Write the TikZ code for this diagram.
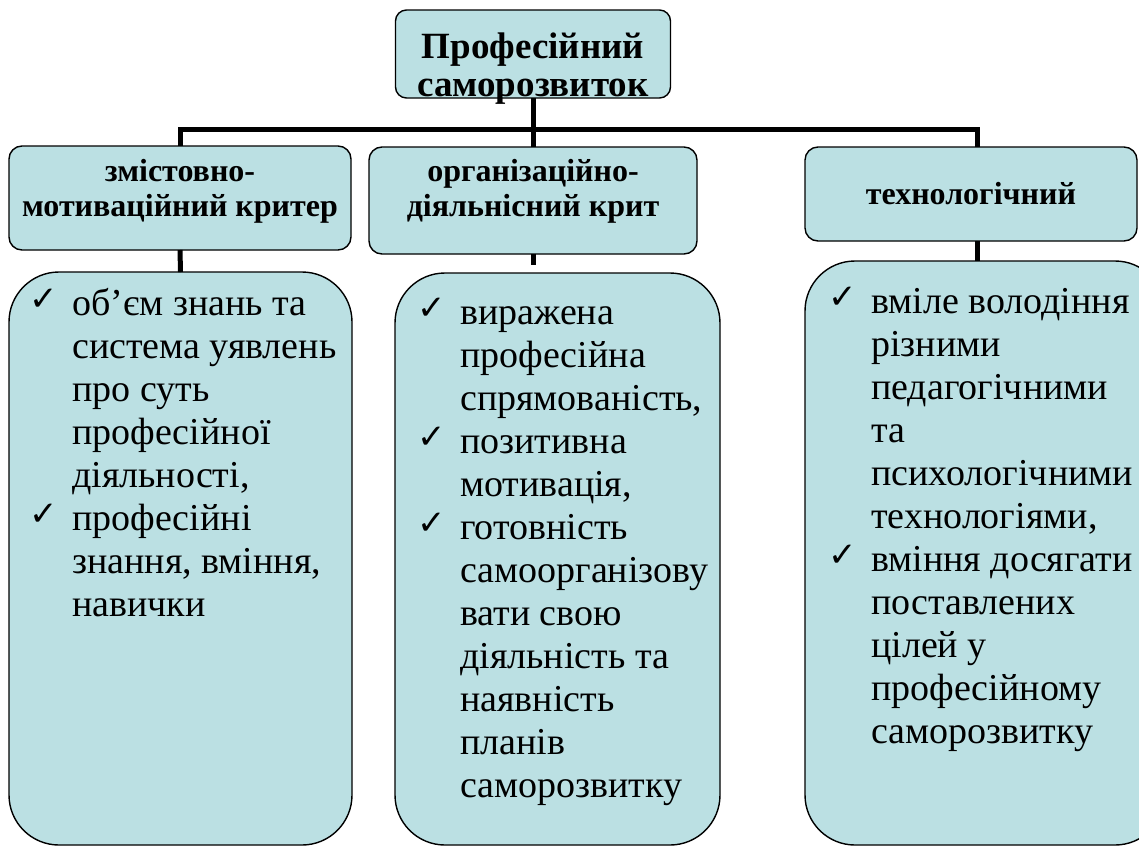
\documentclass[tikz,border=0pt]{standalone}
\usepackage{fontspec}
\setmainfont{Liberation Serif}
\newfontfamily\symfont{DejaVu Sans}
\definecolor{boxfill}{RGB}{187,224,227}
\newcommand{\chk}{\raisebox{5pt}{\symfont\fontsize{34}{34}\selectfont ✓}}
\newcommand{\ck}{\makebox[43pt][l]{\chk}}
\tikzset{
  boxbase/.style={draw=black, line width=1.4pt, fill=boxfill, inner sep=0pt, outer sep=0pt},
  topbox/.style={boxbase, rounded corners=11pt},
  hdrbox/.style={boxbase, rounded corners=13pt},
  listbox/.style={boxbase, rounded corners=50pt},
  conn/.style={draw=black, line width=5pt, line join=miter},
  hdrtext/.style={anchor=base, inner sep=0pt, font=\fontsize{32}{35}\selectfont\bfseries},
  toptext/.style={anchor=base, inner sep=0pt, font=\fontsize{37}{38}\selectfont\bfseries},
  listtext/.style={anchor=base west, inner sep=0pt, font=\fontsize{38}{43}\selectfont},
}
\begin{document}
\begin{tikzpicture}[x=1pt, y=-1pt]
\useasboundingbox (0,0) rectangle (1139,846);
\fill[white] (0,0) rectangle (1139,846);
\clip (0,0) rectangle (1139,846);

% boxes
\node[topbox, minimum width=275pt, minimum height=88pt] (top) at (533,54) {};
\node[hdrbox, minimum width=342pt, minimum height=104pt] (h1) at (180,198) {};
\node[hdrbox, minimum width=328pt, minimum height=107pt] (h2) at (533,200.5) {};
\node[hdrbox, minimum width=332pt, minimum height=94pt] (h3) at (971,194) {};
\node[listbox, minimum width=343pt, minimum height=573pt] (l1) at (180.5,558.5) {};
\node[listbox, minimum width=325pt, minimum height=572pt] (l2) at (557.5,559) {};
\node[listbox, minimum width=360pt, minimum height=584pt] (l3) at (985,553) {};

% connectors
\coordinate (barL) at (180,129);
\coordinate (barR) at (977,129);
\coordinate (m2end) at (533,265);
\draw[conn] (top.south) -- (h2.north);
\draw[conn] (h1.north) -- (h1.north |- barL) -- (barR) -- (barR |- h3.north);
\draw[conn] (h1.south) -- (l1.north);
\draw[conn] (h2.south) -- (m2end);
\draw[conn] (barR |- h3.south) -- (barR |- l3.north);

% texts
\node[toptext] (ttop) at (533,58) {\begin{tabular}[t]{@{}c@{}}Професійний\\саморозвиток\end{tabular}};
\node[hdrtext] (th1) at (180,181) {\begin{tabular}[t]{@{}c@{}}змістовно-\\мотиваційний критер\end{tabular}};
\node[hdrtext] (th2) at (533,181) {\begin{tabular}[t]{@{}c@{}}організаційно-\\діяльнісний крит\end{tabular}};
\node[hdrtext] (th3) at (971,204) {технологічний};

\node[listtext] (tl1) at (29,315) {\begin{tabular}[t]{@{}l@{}l@{}}
\ck & об’єм знань та\\
 & система уявлень\\
 & про суть\\
 & професійної\\
 & діяльності,\\
\ck & професійні\\
 & знання, вміння,\\
 & навички
\end{tabular}};

\node[listtext] (tl2) at (417,324) {\begin{tabular}[t]{@{}l@{}l@{}}
\ck & виражена\\
 & професійна\\
 & спрямованість,\\
\ck & позитивна\\
 & мотивація,\\
\ck & готовність\\
 & самоорганізову\\
 & вати свою\\
 & діяльність та\\
 & наявність\\
 & планів\\
 & саморозвитку
\end{tabular}};

\node[listtext] (tl3) at (828,313) {\begin{tabular}[t]{@{}l@{}l@{}}
\ck & вміле володіння\\
 & різними\\
 & педагогічними\\
 & та\\
 & психологічними\\
 & технологіями,\\
\ck & вміння досягати\\
 & поставлених\\
 & цілей у\\
 & професійному\\
 & саморозвитку
\end{tabular}};
\end{tikzpicture}
\end{document}
